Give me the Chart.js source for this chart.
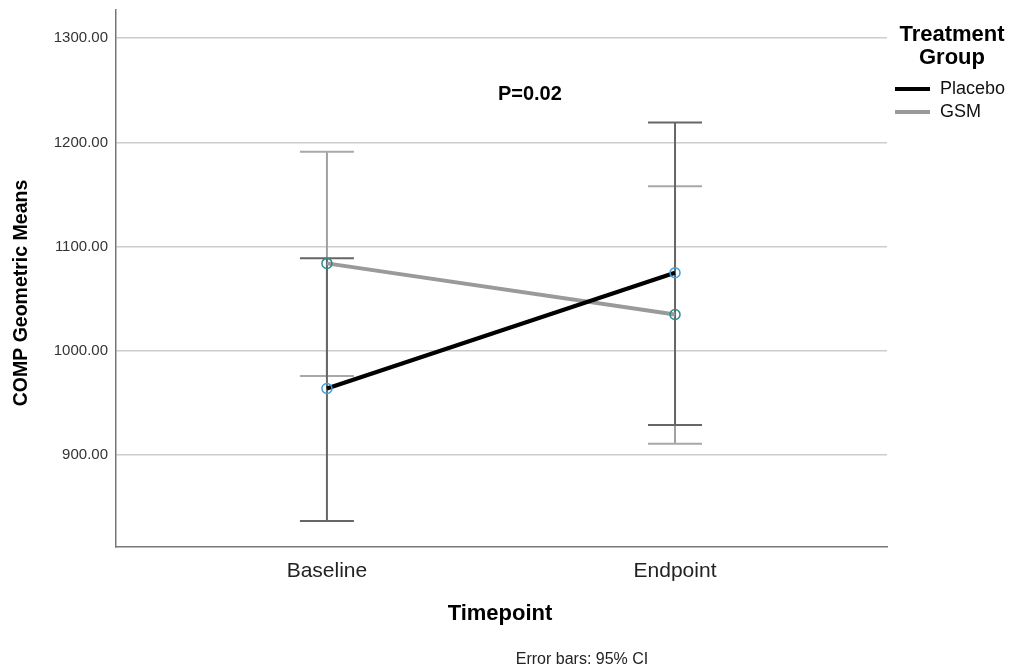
<!DOCTYPE html>
<html>
<head>
<meta charset="utf-8">
<script src="https://cdn.jsdelivr.net/npm/chart.js@4"></script>
<style>
  body { margin: 0; background: #fff; }
  #wrap { width: 1011px; height: 670px; }
</style>
</head>
<body>
<div id="wrap"><canvas id="c"></canvas></div>
<script>
const timepoints = ['Baseline', 'Endpoint'];
const placeboMean = [964, 1075];
const placeboLow = [837, 929];
const placeboHigh = [1089, 1219];
const gsmMean = [1084, 1035];
const gsmLow = [976, 911];
const gsmHigh = [1191, 1158];
const yTicks = [900, 1000, 1100, 1200, 1300];

const FONT = 'Arial, "Liberation Sans", sans-serif';

// error bars drawn under the lines
const errorBars = {
  id: 'errorBars',
  beforeDatasetsDraw(chart) {
    const ctx = chart.ctx;
    const x = chart.scales.x, y = chart.scales.y;
    const sets = [
      { lo: gsmLow, hi: gsmHigh, line: '#a0a0a0', cap: '#a8a8a8' },
      { lo: placeboLow, hi: placeboHigh, line: '#666666', cap: '#666666' }
    ];
    ctx.save();
    sets.forEach(s => {
      s.lo.forEach((lo, i) => {
        const px = x.getPixelForValue(i);
        const yl = y.getPixelForValue(lo), yh = y.getPixelForValue(s.hi[i]);
        ctx.strokeStyle = s.line;
        ctx.lineWidth = 2;
        ctx.beginPath();
        ctx.moveTo(px, yl); ctx.lineTo(px, yh);
        ctx.stroke();
        ctx.strokeStyle = s.cap;
        ctx.beginPath();
        ctx.moveTo(px - 27, yl); ctx.lineTo(px + 27, yl);
        ctx.moveTo(px - 27, yh); ctx.lineTo(px + 27, yh);
        ctx.stroke();
      });
    });
    ctx.restore();
  },
  afterDraw(chart) {
    const ctx = chart.ctx;
    const x = chart.scales.x, y = chart.scales.y;
    ctx.save();
    ctx.fillStyle = '#000';
    ctx.textAlign = 'center';
    ctx.textBaseline = 'middle';
    ctx.font = 'bold 20px ' + FONT;
    ctx.fillText('P=0.02', x.getPixelForValue(0.583), y.getPixelForValue(1246));

    // y axis title
    ctx.save();
    ctx.translate(22, 293);
    ctx.rotate(-Math.PI / 2);
    ctx.font = 'bold 19.5px ' + FONT;
    ctx.fillText('COMP Geometric Means', 0, 0);
    ctx.restore();

    ctx.font = 'bold 22px ' + FONT;
    ctx.fillText('Timepoint', 500, 614);
    ctx.font = '16px ' + FONT;
    ctx.fillStyle = '#222';
    ctx.fillText('Error bars: 95% CI', 582, 660);

    // legend
    ctx.fillStyle = '#000';
    ctx.font = 'bold 22px ' + FONT;
    ctx.fillText('Treatment', 952, 35);
    ctx.fillText('Group', 952, 58);
    ctx.textAlign = 'left';
    ctx.font = '18px ' + FONT;
    ctx.fillStyle = '#111';
    chart.data.datasets.forEach((ds, i) => {
      const ly = 89 + i * 23;
      ctx.strokeStyle = ds.borderColor;
      ctx.lineWidth = 4;
      ctx.beginPath();
      ctx.moveTo(895, ly); ctx.lineTo(930, ly);
      ctx.stroke();
      ctx.fillText(ds.label, 940, ly);
    });
    ctx.restore();
  }
};

new Chart(document.getElementById('c'), {
  type: 'line',
  data: {
    datasets: [
      {
        label: 'Placebo',
        data: placeboMean.map((v, i) => ({ x: i, y: v })),
        borderColor: '#000000',
        borderWidth: 4,
        pointRadius: 5,
        pointBorderWidth: 1.5,
        pointBorderColor: '#3d9de0',
        pointBackgroundColor: 'rgba(0,0,0,0)'
      },
      {
        label: 'GSM',
        data: gsmMean.map((v, i) => ({ x: i, y: v })),
        borderColor: '#9a9a9a',
        borderWidth: 4,
        pointRadius: 5,
        pointBorderWidth: 1.5,
        pointBorderColor: '#2c8a8a',
        pointBackgroundColor: 'rgba(0,0,0,0)'
      }
    ]
  },
  options: {
    responsive: true,
    maintainAspectRatio: false,
    animation: false,
    layout: { padding: { top: 10, right: 124, left: 0, bottom: 0 } },
    plugins: { legend: { display: false }, tooltip: { enabled: false } },
    scales: {
      x: {
        type: 'linear',
        min: -0.606,
        max: 1.609,
        afterBuildTicks: s => { s.ticks = [{ value: 0 }, { value: 1 }]; },
        afterFit: s => { s.height = 123; s.paddingLeft = 0; s.paddingRight = 0; },
        grid: { display: false, drawTicks: false },
        border: { color: '#777', width: 1.5 },
        ticks: {
          callback: v => timepoints[v],
          color: '#222',
          font: { family: FONT, size: 21 },
          padding: 12,
          maxRotation: 0
        }
      },
      y: {
        min: 812,
        max: 1327,
        afterBuildTicks: s => { s.ticks = yTicks.map(v => ({ value: v })); },
        afterFit: s => { s.width = 116; s.paddingTop = 0; s.paddingBottom = 0; },
        grid: { color: '#cccccc', lineWidth: 1.5, drawTicks: false },
        border: { color: '#777', width: 1.5 },
        ticks: {
          callback: v => v.toFixed(2),
          color: '#333',
          font: { family: FONT, size: 15 },
          padding: 8
        }
      }
    }
  },
  plugins: [errorBars]
});
</script>
</body>
</html>
